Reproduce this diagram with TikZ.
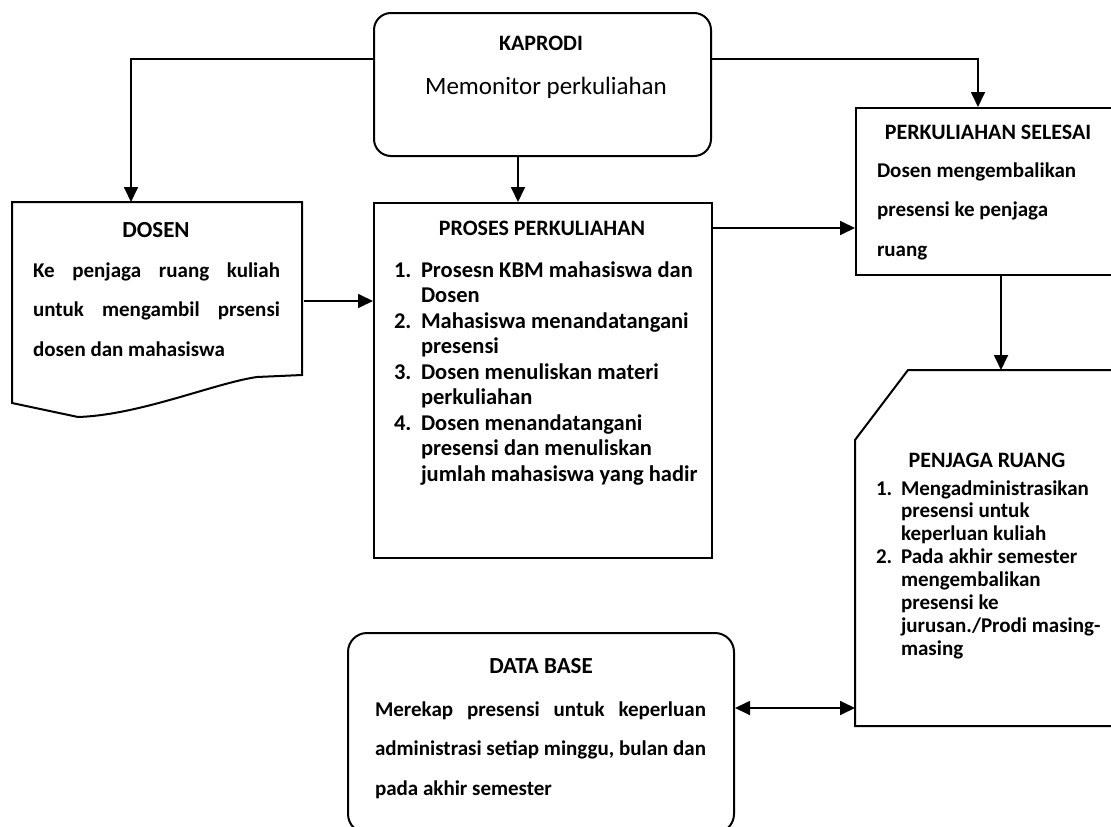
\documentclass[tikz,border=0pt]{standalone}
\usepackage{fontspec}
\setmainfont{Carlito}
\usetikzlibrary{arrows.meta}
\newcommand{\txtrows}[1]{\begin{tabular}[t]{@{}l@{}}#1\end{tabular}}
\begin{document}
\begin{tikzpicture}[x=1pt,y=-1pt, line width=2pt,
  arr/.style={-{Triangle[length=15pt,width=14pt]}, line width=1.8pt},
  dbl/.style={{Triangle[length=15pt,width=14pt]}-{Triangle[length=15pt,width=14pt]}, line width=1.8pt},
  frame/.style={draw=black, line width=2pt, inner sep=0pt, anchor=north west},
  ghost/.style={draw=none, inner sep=0pt, anchor=north west},
  ttl/.style={inner sep=0pt, anchor=base, font=\fontsize{22}{26}\selectfont\bfseries},
  body/.style={inner sep=0pt, anchor=base west, font=\fontsize{21}{39.5}\selectfont\bfseries},
  plist/.style={inner sep=0pt, anchor=base west, font=\fontsize{22.5}{25.5}\selectfont\bfseries},
  jlist/.style={inner sep=0pt, anchor=base west, font=\fontsize{21}{22.9}\selectfont\bfseries},
]
\useasboundingbox (0,0) rectangle (1111,827);
\clip (0,0) rectangle (1111,827);
\fill[white] (0,0) rectangle (1111,827);

% helper rows / columns
\coordinate (r59) at (0,59);
\coordinate (r228) at (0,228);
\coordinate (r301) at (0,301);
\coordinate (r708) at (0,708);
\coordinate (c131) at (131,0);
\coordinate (c518) at (518,0);
\coordinate (c978) at (978,0);
\coordinate (c1001) at (1001,0);

% boxes
\node[frame, rounded corners=17pt, minimum width=337pt, minimum height=143pt] (kap) at (373,12) {};
\node[ghost, minimum width=290pt, minimum height=200pt] (dosen) at (12,202) {};
\draw (12,202) -- (302,202) -- (302,375) -- (257,377)
      .. controls (215,383) and (140,415) .. (78,417) -- (12,403) -- cycle;
\node[frame, minimum width=338pt, minimum height=355pt] (pros) at (373,202) {};
\node[frame, minimum width=262pt, minimum height=167pt] (ps) at (855,107) {};
\node[ghost, minimum width=262pt, minimum height=356pt] (pj) at (855,370) {};
\draw (908,370) -- (1117,370) -- (1117,726) -- (855,726) -- (855,440) -- cycle;
\node[frame, rounded corners=19pt, minimum width=386pt, minimum height=200pt] (db) at (347,632) {};

% texts
\node[ttl] (kapT) at (541,50) {KAPRODI};
\node[inner sep=0pt, anchor=base, font=\fontsize{25}{30}\selectfont] (kapB) at (546,94) {Memonitor perkuliahan};

\node[ttl, font=\fontsize{23}{27}\selectfont\bfseries] (dosT) at (156,237) {DOSEN};
\node[body] (dosB) at (32,277) {\txtrows{\makebox[247pt][s]{Ke penjaga ruang kuliah}\\
  \makebox[247pt][s]{untuk mengambil prsensi}\\ dosen dan mahasiswa}};

\node[ttl] (prosT) at (542,235) {PROSES PERKULIAHAN};
\node[plist] (prosB) at (393,277) {\begin{tabular}[t]{@{}p{27pt}@{}l@{}}
1. & Prosesn KBM mahasiswa dan\\
   & Dosen\\
2. & Mahasiswa menandatangani\\
   & presensi\\
3. & Dosen menuliskan materi\\
   & perkuliahan\\
4. & Dosen menandatangani\\
   & presensi dan menuliskan\\
   & jumlah mahasiswa yang hadir
\end{tabular}};

\node[ttl] (psT) at (988,139) {PERKULIAHAN SELESAI};
\node[body] (psB) at (876,177) {\txtrows{Dosen mengembalikan\\ presensi ke penjaga\\ ruang}};

\node[ttl] (pjT) at (987,467) {PENJAGA RUANG};
\node[jlist] (pjB) at (875,495) {\begin{tabular}[t]{@{}p{25pt}@{}l@{}}
1. & Mengadministrasikan\\
   & presensi untuk\\
   & keperluan kuliah\\
2. & Pada akhir semester\\
   & mengembalikan\\
   & presensi ke\\
   & jurusan./Prodi masing-\\
   & masing
\end{tabular}};

\node[ttl, font=\fontsize{23}{27}\selectfont\bfseries] (dbT) at (541,673) {DATA BASE};
\node[body] (dbB) at (374,716) {\txtrows{\makebox[331pt][s]{Merekap presensi untuk keperluan}\\
  \makebox[331pt][s]{administrasi setiap minggu, bulan dan}\\ pada akhir semester}};

% connectors
\draw[arr] (kap.west |- r59) -| (dosen.north -| c131);
\draw[arr] (kap.east |- r59) -| (ps.north -| c978);
\draw[arr] (kap.south -| c518) -- (pros.north -| c518);
\draw[arr] (dosen.east |- r301) -- (pros.west |- r301);
\draw[arr] (pros.east |- r228) -- (ps.west |- r228);
\draw[arr] (ps.south -| c1001) -- (pj.north -| c1001);
\draw[dbl] (db.east |- r708) -- (pj.west |- r708);
\end{tikzpicture}
\end{document}
